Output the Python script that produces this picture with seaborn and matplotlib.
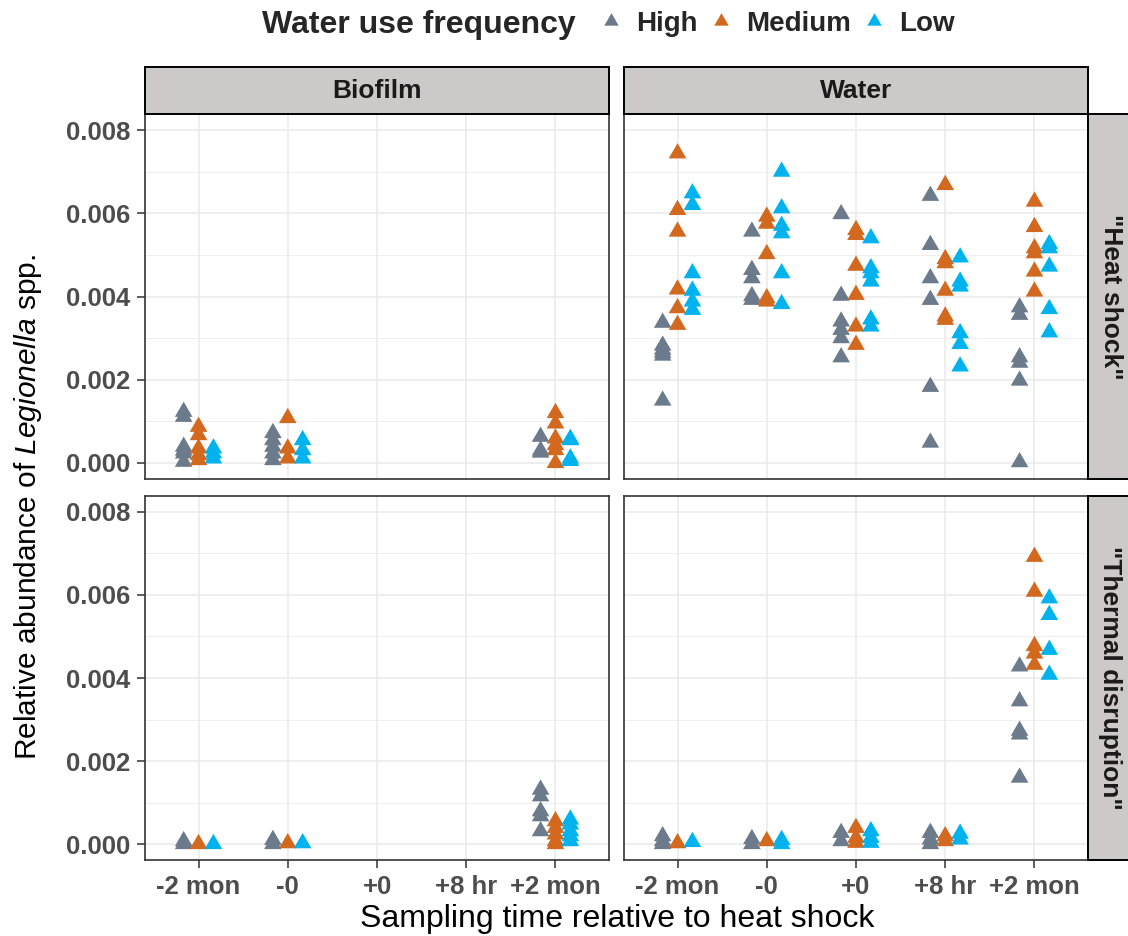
import numpy as np
import pandas as pd
import matplotlib
matplotlib.use("Agg")
import matplotlib.pyplot as plt
import seaborn as sns
from matplotlib.lines import Line2D
from matplotlib.ticker import MultipleLocator

# ---------------- data ----------------
times = ["-2 mon", "-0", "+0", "+8 hr", "+2 mon"]
freqs = ["High", "Medium", "Low"]
media = ["Biofilm", "Water"]
treatments = ['"Heat shock"', '"Thermal disruption"']
colors = ["#6C7B8B", "#D2691E", "#00B2EE"]
yticks = [0.000, 0.002, 0.004, 0.006, 0.008]

# Biofilm, "Heat shock"  (one list per sampling time)
bio_hs_high = [[0.00123, 0.00111, 0.00039, 0.00030, 0.00023, 0.00003],
               [0.00072, 0.00055, 0.00039, 0.00023, 0.00007],
               [], [],
               [0.00063, 0.00030, 0.00025]]
bio_hs_med = [[0.00087, 0.00067, 0.00035, 0.00019, 0.00007],
              [0.00108, 0.00035, 0.00011],
              [], [],
              [0.00120, 0.00095, 0.00059, 0.00043, 0.00031, 0.00000]]
bio_hs_low = [[0.00035, 0.00023, 0.00011],
              [0.00055, 0.00031, 0.00011],
              [], [],
              [0.00058, 0.00055, 0.00011, 0.00005]]

# Water, "Heat shock"
wat_hs_high = [[0.00337, 0.00282, 0.00272, 0.00265, 0.00258, 0.00150],
               [0.00556, 0.00464, 0.00444, 0.00401, 0.00392],
               [0.00598, 0.00402, 0.00340, 0.00320, 0.00300, 0.00254],
               [0.00642, 0.00524, 0.00444, 0.00392, 0.00183, 0.00049],
               [0.00374, 0.00356, 0.00254, 0.00241, 0.00198, 0.00002]]
wat_hs_med = [[0.00744, 0.00608, 0.00556, 0.00417, 0.00372, 0.00332],
              [0.00592, 0.00575, 0.00502, 0.00396, 0.00388],
              [0.00560, 0.00548, 0.00474, 0.00404, 0.00328, 0.00284],
              [0.00668, 0.00490, 0.00480, 0.00414, 0.00352, 0.00344],
              [0.00628, 0.00567, 0.00516, 0.00504, 0.00460, 0.00412]]
wat_hs_low = [[0.00648, 0.00620, 0.00456, 0.00414, 0.00388, 0.00368],
              [0.00700, 0.00612, 0.00570, 0.00552, 0.00456, 0.00382],
              [0.00540, 0.00468, 0.00456, 0.00436, 0.00345, 0.00328],
              [0.00494, 0.00436, 0.00424, 0.00312, 0.00286, 0.00232],
              [0.00526, 0.00516, 0.00472, 0.00370, 0.00314]]

# Biofilm, "Thermal disruption"
bio_td_high = [[0.00007, 0.00000],
               [0.00010, 0.00000],
               [], [],
               [0.00131, 0.00115, 0.00079, 0.00067, 0.00031]]
bio_td_med = [[0.00000],
              [0.00002],
              [], [],
              [0.00055, 0.00039, 0.00023, 0.00007, 0.00000]]
bio_td_low = [[0.00000],
              [0.00002],
              [], [],
              [0.00059, 0.00047, 0.00031, 0.00019, 0.00007]]

# Water, "Thermal disruption"
wat_td_high = [[0.00019, 0.00007, 0.00000],
               [0.00012, 0.00000],
               [0.00027, 0.00007],
               [0.00027, 0.00011, 0.00000],
               [0.00428, 0.00344, 0.00273, 0.00264, 0.00160]]
wat_td_med = [[0.00002],
              [0.00007],
              [0.00039, 0.00015, 0.00003],
              [0.00019, 0.00007],
              [0.00692, 0.00608, 0.00477, 0.00459, 0.00432]]
wat_td_low = [[0.00005],
              [0.00010, 0.00000],
              [0.00031, 0.00015, 0.00003],
              [0.00025, 0.00011],
              [0.00592, 0.00552, 0.00468, 0.00408]]

panels = {
    (0, 0): [bio_hs_high, bio_hs_med, bio_hs_low],
    (0, 1): [wat_hs_high, wat_hs_med, wat_hs_low],
    (1, 0): [bio_td_high, bio_td_med, bio_td_low],
    (1, 1): [wat_td_high, wat_td_med, wat_td_low],
}

# build long table
rows = []
for (r, c), series in panels.items():
    for fi, (fname, per_time) in enumerate(zip(freqs, series)):
        for ti, vals in enumerate(per_time):
            for v in vals:
                rows.append(dict(row=r, col=c, time=times[ti], freq=fname, value=v))
df = pd.DataFrame(rows)
df["freq"] = pd.Categorical(df["freq"], categories=freqs, ordered=True)
dodge_w = 0.5
offsets = {f: (i - 1) * dodge_w / 3 for i, f in enumerate(freqs)}
df["xpos"] = df["time"].map({t: i for i, t in enumerate(times)}) + df["freq"].map(offsets).astype(float)

# ---------------- style ----------------
sns.set_theme(style="white")
plt.rcParams["font.family"] = ["Liberation Sans", "DejaVu Sans"]
plt.rcParams["mathtext.fontset"] = "custom"
plt.rcParams["mathtext.rm"] = "Liberation Sans"
plt.rcParams["mathtext.it"] = "Liberation Sans:italic"

W, H = 1128, 936
fig = plt.figure(figsize=(W / 100, H / 100), dpi=100)

# equilateral triangle centred on centroid
tri = [(0, 1.1547), (-1, -0.57735), (1, -0.57735), (0, 1.1547)]

col_x = [(145, 609), (624, 1088)]
row_y = [(114, 479), (496, 860)]
ylim = (-0.000385, 0.008385)
tick_col = "#4D4D4D"
tick_fs = 18.5
strip_fs = 19
title_fs = 23
pal = dict(zip(freqs, colors))

def fx(px):
    return px / W

def fy(py):
    return 1 - py / H

for r in range(2):
    for c in range(2):
        x0, x1 = col_x[c]
        y0, y1 = row_y[r]
        ax = fig.add_axes([fx(x0), fy(y1), fx(x1 - x0), (y1 - y0) / H])
        sub = df[(df.row == r) & (df.col == c)]
        sns.scatterplot(data=sub, x="xpos", y="value", hue="freq", hue_order=freqs,
                        palette=pal, marker=tri, s=215, linewidth=0, legend=False,
                        ax=ax, zorder=3)
        ax.set_xlim(-0.6, 4.6)
        ax.set_ylim(*ylim)
        ax.set_xticks(range(len(times)))
        ax.set_yticks(yticks)
        ax.yaxis.set_minor_locator(MultipleLocator(0.001))
        ax.grid(True, which="major", color="#EBEBEB", lw=1.2, zorder=0)
        ax.grid(True, which="minor", axis="y", color="#EBEBEB", lw=0.6, zorder=0)
        ax.set_axisbelow(True)
        ax.set_xlabel("")
        ax.set_ylabel("")
        for sp in ax.spines.values():
            sp.set_color("#333333")
            sp.set_linewidth(1.2)
        ax.tick_params(axis="both", which="major", length=5.5, width=1.1,
                       color="#333333", labelcolor=tick_col, labelsize=tick_fs, pad=5,
                       left=(c == 0), bottom=(r == 1))
        ax.tick_params(axis="both", which="minor", length=0)
        if c == 0:
            ax.set_yticklabels([f"{v:.3f}" for v in yticks], fontweight="bold")
        else:
            ax.set_yticklabels([])
        if r == 1:
            ax.set_xticklabels(times, fontweight="bold")
        else:
            ax.set_xticklabels([])

# strips on top
for c in range(2):
    x0, x1 = col_x[c]
    sax = fig.add_axes([fx(x0), fy(114), fx(x1 - x0), 47 / H])
    sax.set_facecolor("#CDC9C9")
    sax.set_xticks([]); sax.set_yticks([])
    for sp in sax.spines.values():
        sp.set_color("black"); sp.set_linewidth(1.4)
    sax.text(0.5, 0.5, media[c], ha="center", va="center", fontsize=strip_fs,
             fontweight="bold", color="#1A1A1A", transform=sax.transAxes)

# strips on the right
for r in range(2):
    y0, y1 = row_y[r]
    sax = fig.add_axes([fx(1088), fy(y1), fx(45), (y1 - y0) / H])
    sax.set_facecolor("#CDC9C9")
    sax.set_xticks([]); sax.set_yticks([])
    for sp in sax.spines.values():
        sp.set_color("black"); sp.set_linewidth(1.4)
    sax.text(0.5, 0.5, treatments[r], ha="center", va="center", fontsize=strip_fs,
             fontweight="bold", color="#1A1A1A", rotation=-90, transform=sax.transAxes)

# axis titles
fig.text(fx(617), fy(919), "Sampling time relative to heat shock", ha="center",
         va="center", fontsize=title_fs, color="black")
fig.text(fx(28), fy(507), r"Relative abundance of $\mathit{Legionella}$ spp.",
         ha="center", va="center", rotation=90, fontsize=21.5, color="black")

# legend
fig.text(fx(262), fy(25), "Water use frequency", ha="left", va="center",
         fontsize=23, fontweight="bold")
handles = [Line2D([], [], linestyle="none", marker=tri, markersize=12,
                  markerfacecolor=col, markeredgewidth=0) for col in colors]
fig.legend(handles, freqs, ncol=3, loc="center left",
           bbox_to_anchor=(fx(597), fy(24)), frameon=False,
           prop=dict(weight="bold", size=20), handlelength=1.0,
           handletextpad=0.42, columnspacing=0.32, borderaxespad=0, borderpad=0)

fig.savefig("out.png", dpi=100)
